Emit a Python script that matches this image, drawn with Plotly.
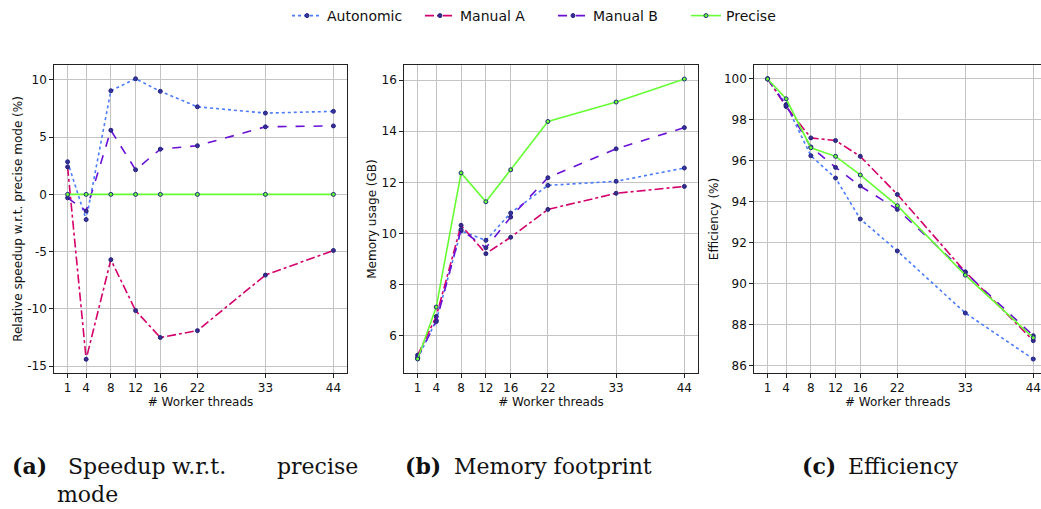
import plotly.graph_objects as go

# ---------------- data ----------------
threads = [1, 4, 8, 12, 16, 22, 33, 44]
thread_labels = ["1", "4", "8", "12", "16", "22", "33", "44"]

series_names = ["Autonomic", "Manual A", "Manual B", "Precise"]

speedup_autonomic = [2.85, -2.2, 9.05, 10.1, 9.0, 7.65, 7.1, 7.25]
speedup_manual_a = [2.4, -14.4, -5.7, -10.15, -12.5, -11.9, -7.05, -4.9]
speedup_manual_b = [-0.3, -1.45, 5.6, 2.15, 3.95, 4.25, 5.9, 5.98]
speedup_precise = [0, 0, 0, 0, 0, 0, 0, 0]

memory_autonomic = [5.1, 6.6, 10.1, 9.73, 10.8, 11.88, 12.04, 12.56]
memory_manual_a = [5.24, 6.75, 10.32, 9.21, 9.85, 10.94, 11.57, 11.84]
memory_manual_b = [5.15, 6.55, 10.15, 9.44, 10.64, 12.18, 13.31, 14.14]
memory_precise = [5.09, 7.12, 12.37, 11.24, 12.49, 14.38, 15.14, 16.04]

eff_autonomic = [100, 98.75, 96.25, 95.16, 93.16, 91.6, 88.57, 86.32]
eff_manual_a = [100, 98.65, 97.12, 96.99, 96.22, 94.36, 90.58, 87.22]
eff_manual_b = [100, 98.7, 96.68, 95.68, 94.77, 93.63, 90.55, 87.46]
eff_precise = [100, 99.03, 96.64, 96.22, 95.31, 93.81, 90.42, 87.36]

speedup_ticks = [-15, -10, -5, 0, 5, 10]
speedup_tick_labels = ["-15", "-10", "-5", "0", "5", "10"]
memory_ticks = [6, 8, 10, 12, 14, 16]
eff_ticks = [86, 88, 90, 92, 94, 96, 98, 100]

y_titles = ["Relative speedup w.r.t. precise mode (%)", "Memory usage (GB)", "Efficiency (%)"]
x_title = "# Worker threads"

captions = [
    ("(a)", ["Speedup", "w.r.t.", "precise"], "mode"),
    ("(b)", ["Memory footprint"], None),
    ("(c)", ["Efficiency"], None),
]

# ---------------- styles ----------------
W, H = 1041, 509
line_colors = ["#4a7bff", "#d4006c", "#6a10d6", "#66ff33"]
line_dashes = ["dot", "dashdot", "dash", "solid"]
marker_edge = "#23237f"
marker_fill = ["#3535a0", "#3a2a8a", "#3a2a9a", "#66ff33"]

def px(x):
    return x / W

def py(y):
    return 1 - y / H

x_domains = [[px(54.3), px(346.7)], [px(404.3), px(697.7)], [px(754.3), 1.0]]
y_domain = [py(373), py(65)]
x_ranges = [[-1.15, 46.15], [-1.15, 46.15], [-1.15, 45.25]]
y_ranges = [[-15.6, 11.3], [4.54, 16.59], [85.64, 100.68]]

panels = [
    [speedup_autonomic, speedup_manual_a, speedup_manual_b, speedup_precise],
    [memory_autonomic, memory_manual_a, memory_manual_b, memory_precise],
    [eff_autonomic, eff_manual_a, eff_manual_b, eff_precise],
]

fig = go.Figure()
for p, data in enumerate(panels):
    suffix = "" if p == 0 else str(p + 1)
    for i, name in enumerate(series_names):
        fig.add_trace(go.Scatter(
            x=threads, y=data[i], name=name, mode="lines+markers",
            line=dict(color=line_colors[i], width=1.6, dash=line_dashes[i]),
            marker=dict(size=4, color=marker_fill[i],
                        line=dict(color=marker_edge, width=1)),
            xaxis="x" + suffix, yaxis="y" + suffix,
            showlegend=(p == 0), legendgroup=name,
        ))

axis_font = dict(family="DejaVu Sans", size=12, color="#111")
common_axis = dict(
    showline=True, linecolor="#222", linewidth=1,
    showgrid=True, gridcolor="#c4c4c4", gridwidth=1,
    ticks="outside", ticklen=4, tickwidth=1, tickcolor="#222",
    tickfont=axis_font, zeroline=False,
)

layout = dict(
    width=W, height=H,
    margin=dict(l=0, r=0, t=0, b=0),
    paper_bgcolor="white", plot_bgcolor="white",
    font=dict(family="DejaVu Sans", size=12, color="#111"),
    legend=dict(
        orientation="h", x=px(287), xanchor="left", y=py(16), yanchor="middle",
        font=dict(family="DejaVu Sans", size=14, color="#111"),
        entrywidth=88, entrywidthmode="pixels", itemwidth=30,
        bgcolor="rgba(0,0,0,0)",
    ),
    showlegend=True,
)

y_tickvals = [speedup_ticks, memory_ticks, eff_ticks]
y_ticktexts = [speedup_tick_labels, [str(v) for v in memory_ticks], [str(v) for v in eff_ticks]]

for p in range(3):
    suffix = "" if p == 0 else str(p + 1)
    layout["xaxis" + suffix] = dict(
        common_axis, domain=x_domains[p], range=x_ranges[p],
        anchor="y" + suffix, mirror=True,
        tickmode="array", tickvals=threads, ticktext=thread_labels,
        title=dict(text=x_title, font=axis_font, standoff=3),
    )
    layout["yaxis" + suffix] = dict(
        common_axis, domain=y_domain, range=y_ranges[p],
        anchor="x" + suffix, mirror=(p < 2),
        tickmode="array", tickvals=y_tickvals[p], ticktext=y_ticktexts[p],
        title=dict(text=y_titles[p], font=axis_font, standoff=2),
    )

fig.update_layout(**layout)

# captions (serif, justified like the LaTeX sub-captions)
cap_font = dict(family="DejaVu Serif", size=22, color="#111")
cap_bold = dict(family="DejaVu Serif", size=22, color="#111", weight="bold")
label_x = [10, 403, 800]
word_x = [[66, 170, 275], [452], [846]]
for k, (lab, words, second) in enumerate(captions):
    fig.add_annotation(text=lab, x=px(label_x[k]), y=py(466), xref="paper", yref="paper",
                       xanchor="left", yanchor="middle", showarrow=False, font=cap_bold)
    for w, wx in zip(words, word_x[k]):
        fig.add_annotation(text=w, x=px(wx), y=py(466), xref="paper", yref="paper",
                           xanchor="left", yanchor="middle", showarrow=False, font=cap_font)
    if second:
        fig.add_annotation(text=second, x=px(55), y=py(494), xref="paper", yref="paper",
                           xanchor="left", yanchor="middle", showarrow=False, font=cap_font)

fig.write_html("out.html")
